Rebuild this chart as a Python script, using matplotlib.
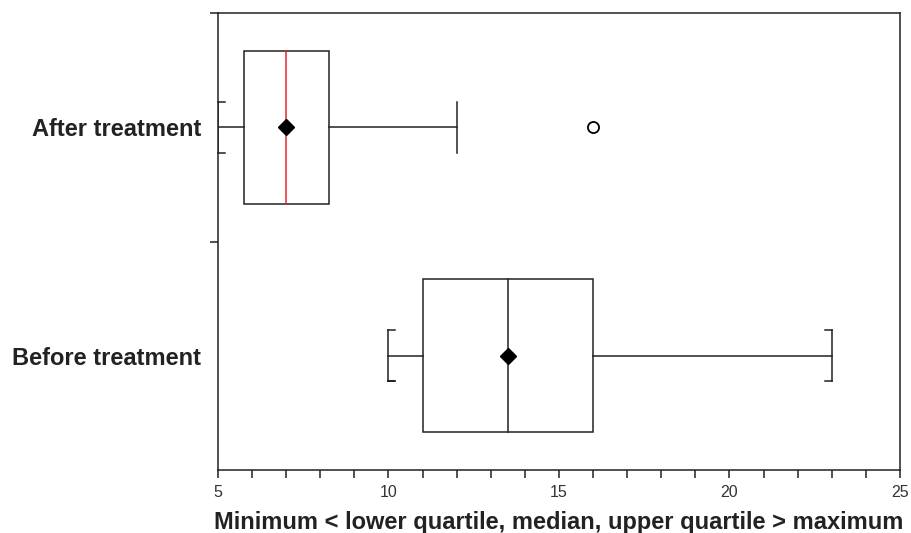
import matplotlib.pyplot as plt
from matplotlib.patches import Rectangle

plt.rcParams['font.family'] = ['Liberation Sans', 'DejaVu Sans']

# box statistics, one entry per group
groups = ["After treatment", "Before treatment"]
minimum = [5.0, 10.0]
q1 = [5.75, 11.0]
median = [7.0, 13.5]
q3 = [8.25, 16.0]
maximum = [12.0, 23.0]
mean = [7.0, 13.5]
median_colors = ["#e8262b", "#222222"]
outliers_x = [16.0]
outliers_group = [0]

fig = plt.figure(figsize=(9.11, 5.33), dpi=100)
ax = fig.add_axes([0.2393, 0.1182, 0.7486, 0.8574])

lw = 1.1
col = "#222222"
half = 0.335
cap = 0.112
for i in range(len(groups)):
    ax.add_patch(Rectangle((q1[i], i - half), q3[i] - q1[i], 2 * half,
                           fill=False, edgecolor=col, lw=lw, zorder=2))
    ax.plot([median[i], median[i]], [i - half, i + half], color=median_colors[i], lw=lw, zorder=3)
    ax.plot([minimum[i], q1[i]], [i, i], color=col, lw=lw)
    ax.plot([q3[i], maximum[i]], [i, i], color=col, lw=lw)
    ax.plot(mean[i], i, marker="D", color="black", markersize=8.5, zorder=4)

# caps
ax.plot([minimum[0], minimum[0]], [-cap, cap], color=col, lw=lw)
ax.plot([minimum[0], minimum[0] + 0.2], [-cap, -cap], color=col, lw=lw, clip_on=False)
ax.plot([minimum[0], minimum[0] + 0.2], [cap, cap], color=col, lw=lw, clip_on=False)
ax.plot([maximum[0], maximum[0]], [-cap, cap], color=col, lw=lw)
ax.plot([minimum[1], minimum[1], minimum[1] + 0.2, minimum[1]], [1 - cap, 1 + cap, 1 + cap, 1 + cap], color=col, lw=lw)
ax.plot([minimum[1], minimum[1] + 0.2], [1 - cap, 1 - cap], color=col, lw=lw)
ax.plot([maximum[1], maximum[1]], [1 - cap, 1 + cap], color=col, lw=lw)
ax.plot([maximum[1], maximum[1] - 0.2], [1 - cap, 1 - cap], color=col, lw=lw)
ax.plot([maximum[1], maximum[1] - 0.2], [1 + cap, 1 + cap], color=col, lw=lw)

ax.plot(outliers_x, outliers_group, linestyle="none", marker="o", markerfacecolor="white",
        markeredgecolor="black", markersize=8, markeredgewidth=1.3, zorder=4)

ax.set_xlim(5, 25)
ax.set_ylim(1.5, -0.5)
ax.set_xticks([5, 10, 15, 20, 25])
ax.set_xticks(range(5, 26), minor=True)
ax.set_yticks([0, 1])
ax.set_yticklabels(groups, fontsize=17, fontweight="bold", color="#222222")
ax.set_yticks([-0.5, 0.5], minor=True)
ax.tick_params(axis="y", which="major", length=0, pad=12)
ax.tick_params(axis="y", which="minor", length=6, width=lw, color=col)
ax.tick_params(axis="x", which="both", length=5.5, width=lw, color=col, labelsize=11.5,
               labelcolor="#333333", pad=5)
for s in ax.spines.values():
    s.set_linewidth(lw)
    s.set_color(col)

ax.set_xlabel("Minimum < lower quartile, median, upper quartile > maximum",
              fontsize=17, fontweight="bold", color="#222222", labelpad=8)

fig.savefig("out.png", dpi=100)
